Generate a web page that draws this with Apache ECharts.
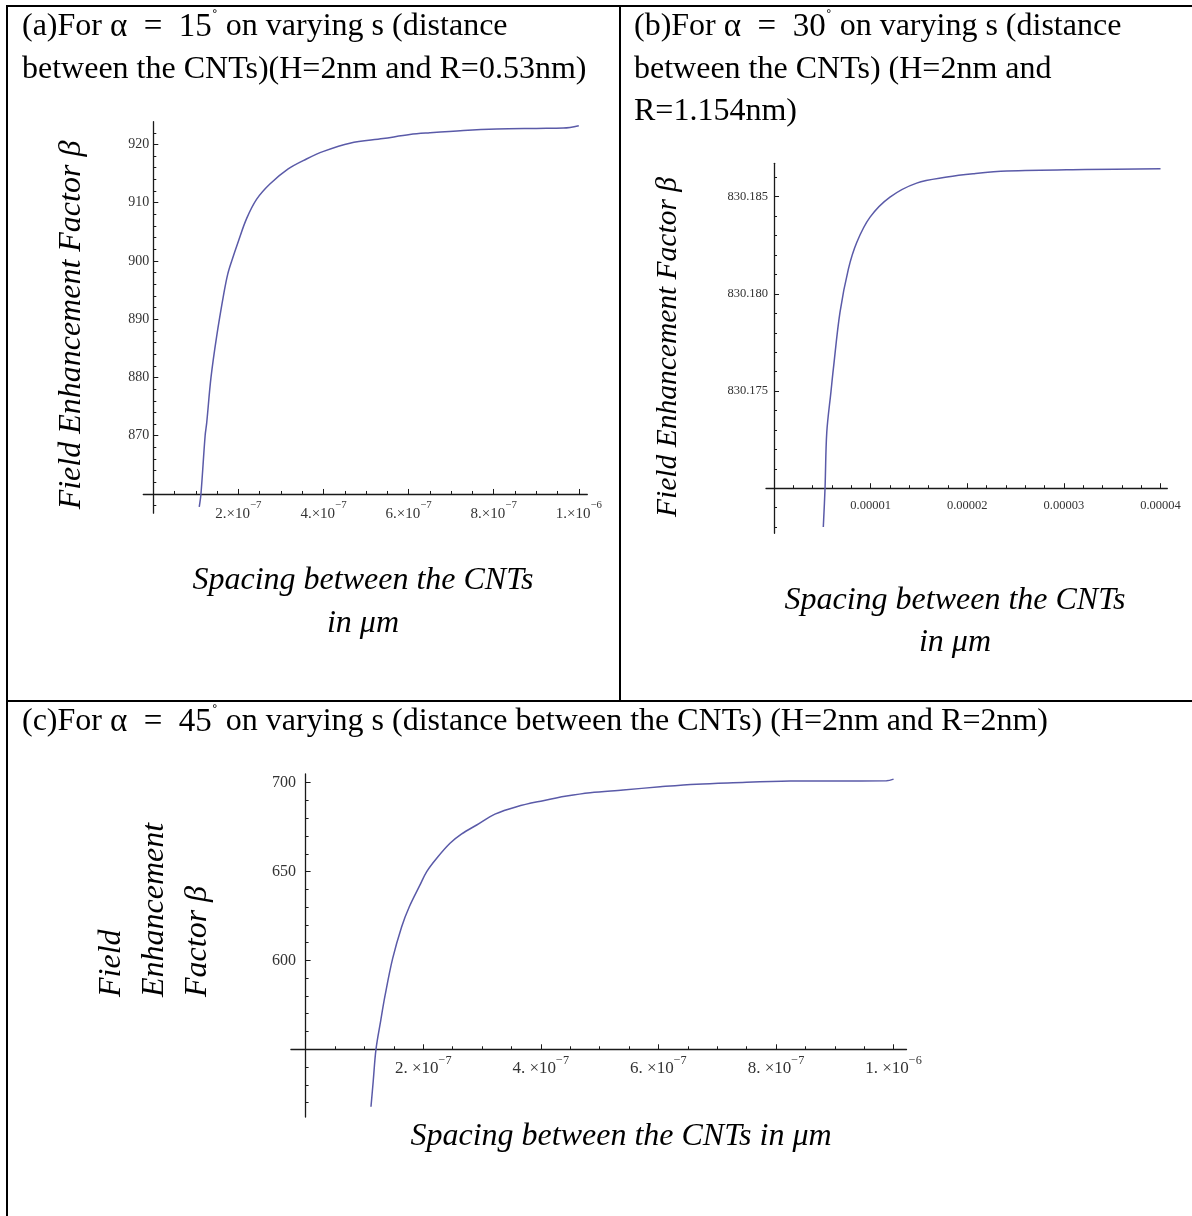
<!DOCTYPE html>
<html>
<head>
<meta charset="utf-8">
<script src="https://cdn.jsdelivr.net/npm/echarts@6/dist/echarts.min.js"></script>
<style>
  html, body { margin: 0; padding: 0; background: #fff; }
  #main { width: 1192px; height: 1216px; }
</style>
</head>
<body>
<div id="main"></div>
<script>
// (a) alpha = 15 deg, H=2nm, R=0.53nm
var sA = [1.08e-7, 1.12e-7, 1.218e-7, 1.255e-7, 1.356e-7, 1.49e-7, 1.66e-7, 1.748e-7, 1.843e-7, 2.0e-7, 2.195e-7,
          2.43e-7, 2.74e-7, 3.17e-7, 3.6e-7, 4.0e-7, 4.62e-7, 5.4e-7, 6.03e-7, 6.5e-7, 7.29e-7, 8.07e-7, 9.0e-7, 9.64e-7, 1.0e-6];
var betaA = [857.8, 860.0, 870.0, 872.2, 880.0, 887.1, 894.5, 897.7, 900.0, 903.4, 907.3,
             910.6, 913.2, 915.8, 917.5, 918.8, 920.2, 921.0, 921.7, 922.0, 922.4, 922.65, 922.75, 922.8, 923.2];

// (b) alpha = 30 deg, H=2nm, R=1.154nm
var sB = [0.51e-5, 0.528e-5, 0.546e-5, 0.59e-5, 0.614e-5, 0.683e-5, 0.77e-5, 0.857e-5, 0.994e-5, 1.2e-5,
          1.476e-5, 1.79e-5, 2.06e-5, 2.41e-5, 3.22e-5, 4.0e-5];
var betaB = [830.168, 830.170, 830.17288, 830.175, 830.17614, 830.17906, 830.18129, 830.18266, 830.18395, 830.18498,
             830.1857, 830.18601, 830.18618, 830.18632, 830.1864, 830.18644];

// (c) alpha = 45 deg, H=2nm, R=2nm
var sC = [1.112e-7, 1.15e-7, 1.197e-7, 1.277e-7, 1.35e-7, 1.48e-7, 1.634e-7, 1.764e-7, 1.946e-7, 2.06e-7, 2.23e-7, 2.456e-7,
          2.655e-7, 2.91e-7, 3.22e-7, 3.59e-7, 4.04e-7, 4.44e-7, 4.84e-7, 5.4e-7, 6.03e-7, 6.65e-7, 7.27e-7,
          8.24e-7, 9.0e-7, 9.88e-7, 1.0e-6];
var betaC = [517.7, 532, 550, 566, 580, 601, 619, 630.2, 642.5, 650, 657.5, 665.9,
             671.2, 676.2, 682.3, 686.5, 689.9, 692.5, 694.4, 695.9, 697.7, 699.2, 700,
             700.9, 701.0, 701.1, 702];

// tick values
var xMajorA = [2e-7, 4e-7, 6e-7, 8e-7, 1e-6];
var yMajorA = [870, 880, 890, 900, 910, 920];
var xMajorB = [1e-5, 2e-5, 3e-5, 4e-5];
var yMajorB = [830.175, 830.180, 830.185];
var xMajorC = [2e-7, 4e-7, 6e-7, 8e-7, 1e-6];
var yMajorC = [600, 650, 700];

function steps(a, b, st) {
  var out = [];
  var n = Math.round((b - a) / st);
  for (var i = 0; i <= n; i++) out.push(+(a + i * st).toPrecision(12));
  return out;
}

var xMinorA = steps(0.5e-7, 1e-6, 0.5e-7);
var yMinorA = steps(858, 922, 2);
var xMinorB = steps(0.2e-5, 4e-5, 0.2e-5);
var yMinorB = steps(830.168, 830.186, 0.001);
var xMinorC = steps(0.5e-7, 1e-6, 0.5e-7);
var yMinorC = steps(520, 700, 10);

function zip(xs, ys) {
  var d = [];
  for (var i = 0; i < xs.length; i++) d.push([xs[i], ys[i]]);
  return d;
}

function sci(sep) {
  return function (v) {
    var e = Math.floor(Math.log10(v) + 1e-9);
    var m = Math.round(v / Math.pow(10, e));
    return '{b|' + m + '.' + sep + '×10}{s|−' + (-e) + '}';
  };
}

var axisColor = '#1a1a1a';
var tickFont = 'Liberation Serif';

// layout of the three plots
var panels = [
  { left: 143.3, top: 121.7, width: 444, height: 391.5,
    xMin: -0.235e-7, xMax: 1.02e-6, yMin: 856.7, yMax: 923.9, cross: 860,
    xMajor: xMajorA, xMinor: xMinorA, yMajor: yMajorA, yMinor: yMinorA,
    xFmt: sci(''), yFmt: function (v) { return String(v); },
    fs: 14, xfs: 15, xMargin: 6, yMargin: -6, data: zip(sA, betaA) },
  { left: 766, top: 163.3, width: 401.3, height: 370,
    xMin: -0.083e-5, xMax: 4.07e-5, yMin: 830.16768, yMax: 830.18672, cross: 830.17,
    xMajor: xMajorB, xMinor: xMinorB, yMajor: yMajorB, yMinor: yMinorB,
    xFmt: function (v) { return v.toFixed(5); }, yFmt: function (v) { return v.toFixed(3); },
    fs: 12.5, xfs: 12.5, xMargin: 11, yMargin: -2, data: zip(sB, betaB) },
  { left: 290.9, top: 774, width: 615.6, height: 343,
    xMin: -0.25e-7, xMax: 1.022e-6, yMin: 511.9, yMax: 704.9, cross: 550,
    xMajor: xMajorC, xMinor: xMinorC, yMajor: yMajorC, yMinor: yMinorC,
    xFmt: sci(' '), yFmt: function (v) { return String(v); },
    fs: 16, xfs: 17, xMargin: 6, yMargin: -5, data: zip(sC, betaC) }
];

var grids = [], xAxes = [], yAxes = [], series = [];
panels.forEach(function (p, i) {
  grids.push({ left: p.left, top: p.top, width: p.width, height: p.height,
               containLabel: false, outerBoundsMode: 'none' });
  var off = -(p.cross - p.yMin) / (p.yMax - p.yMin) * p.height;
  var rich = {
    b: { fontFamily: tickFont, fontSize: p.xfs, color: '#333', lineHeight: 22, verticalAlign: 'bottom' },
    s: { fontFamily: tickFont, fontSize: p.xfs * 0.72, color: '#333', lineHeight: 22, verticalAlign: 'top' }
  };
  // major x
  xAxes.push({
    gridIndex: i, type: 'value', position: 'bottom', min: p.xMin, max: p.xMax, offset: off,
    axisLine: { onZero: false, lineStyle: { color: axisColor, width: 1.3 } },
    axisTick: { inside: true, length: 5, customValues: p.xMajor, lineStyle: { color: axisColor, width: 1 } },
    axisLabel: { customValues: p.xMajor, formatter: p.xFmt, margin: p.xMargin, rich: rich,
                 fontFamily: tickFont, fontSize: p.xfs, color: '#333' },
    splitLine: { show: false }
  });
  // minor x
  xAxes.push({
    gridIndex: i, type: 'value', position: 'bottom', min: p.xMin, max: p.xMax, offset: off,
    axisLine: { show: false, onZero: false },
    axisTick: { inside: true, length: 3, customValues: p.xMinor, lineStyle: { color: axisColor, width: 1 } },
    axisLabel: { show: false },
    splitLine: { show: false }
  });
  // major y
  yAxes.push({
    gridIndex: i, type: 'value', position: 'left', min: p.yMin, max: p.yMax,
    axisLine: { onZero: true, onZeroAxisIndex: 2 * i, lineStyle: { color: axisColor, width: 1.3 } },
    axisTick: { inside: true, length: 5, customValues: p.yMajor, lineStyle: { color: axisColor, width: 1 } },
    axisLabel: { customValues: p.yMajor, formatter: p.yFmt, margin: p.yMargin,
                 fontFamily: tickFont, fontSize: p.fs, color: '#333' },
    splitLine: { show: false }
  });
  // minor y
  yAxes.push({
    gridIndex: i, type: 'value', position: 'left', min: p.yMin, max: p.yMax,
    axisLine: { show: false, onZero: true, onZeroAxisIndex: 2 * i },
    axisTick: { inside: true, length: 3, customValues: p.yMinor, lineStyle: { color: axisColor, width: 1 } },
    axisLabel: { show: false },
    splitLine: { show: false }
  });
  series.push({
    type: 'line', xAxisIndex: 2 * i, yAxisIndex: 2 * i, data: p.data,
    showSymbol: false, smooth: 0.35, clip: false,
    lineStyle: { color: '#5a5aa8', width: 1.5 }
  });
});

var titleFont = 'Liberation Serif';
function titleRich() {
  return {
    n: { fontFamily: titleFont, fontSize: 32, fill: '#000' },
    m: { fontFamily: titleFont, fontSize: 33, fill: '#000' },
    d: { fontFamily: titleFont, fontSize: 18, fill: '#000', verticalAlign: 'top', lineHeight: 36 }
  };
}
function txt(x, y, text, opts) {
  opts = opts || {};
  return {
    type: 'text', x: x, y: y, rotation: opts.rot || 0,
    style: {
      text: text, fill: '#000',
      font: opts.font || ('italic 32px "Liberation Serif"'),
      textAlign: opts.align || 'center', textVerticalAlign: 'middle',
      rich: opts.rich
    }
  };
}
function hline(x1, x2, y) {
  return { type: 'line', shape: { x1: x1, y1: y, x2: x2, y2: y }, style: { stroke: '#000', lineWidth: 2 } };
}
function vline(x, y1, y2) {
  return { type: 'line', shape: { x1: x, y1: y1, x2: x, y2: y2 }, style: { stroke: '#000', lineWidth: 2 } };
}

var up = Math.PI / 2;
var graphics = [
  hline(6, 1192, 6), vline(7, 6, 1216), vline(620, 6, 701), hline(7, 1192, 701),
  // panel titles
  txt(22, 27, '{n|(a)For }{m|α  =  15}{d|˚}{n| on varying s (distance}', { align: 'left', rich: titleRich() }),
  txt(22, 70, '{n|between the CNTs)(H=2nm and R=0.53nm)}', { align: 'left', rich: titleRich() }),
  txt(634, 27, '{n|(b)For }{m|α  =  30}{d|˚}{n| on varying s (distance}', { align: 'left', rich: titleRich() }),
  txt(634, 70, '{n|between the CNTs) (H=2nm and}', { align: 'left', rich: titleRich() }),
  txt(634, 112, '{n|R=1.154nm)}', { align: 'left', rich: titleRich() }),
  txt(22, 722, '{n|(c)For }{m|α  =  45}{d|˚}{n| on varying s (distance between the CNTs) (H=2nm and R=2nm)}', { align: 'left', rich: titleRich() }),
  // axis names
  txt(72, 325, 'Field Enhancement Factor β', { rot: up }),
  txt(668, 347, 'Field Enhancement Factor β', { rot: up, font: 'italic 29.5px "Liberation Serif"' }),
  txt(363, 581, 'Spacing between the CNTs'),
  txt(363, 624, 'in μm'),
  txt(955, 601, 'Spacing between the CNTs'),
  txt(955, 643, 'in μm'),
  txt(621, 1137, 'Spacing between the CNTs in μm'),
  txt(112, 997, 'Field', { rot: up, align: 'left' }),
  txt(155, 997, 'Enhancement', { rot: up, align: 'left' }),
  txt(198, 997, 'Factor β', { rot: up, align: 'left' })
];

var chart = echarts.init(document.getElementById('main'));
chart.setOption({
  animation: false,
  backgroundColor: '#fff',
  grid: grids,
  xAxis: xAxes,
  yAxis: yAxes,
  series: series,
  graphic: graphics
});
</script>
</body>
</html>
